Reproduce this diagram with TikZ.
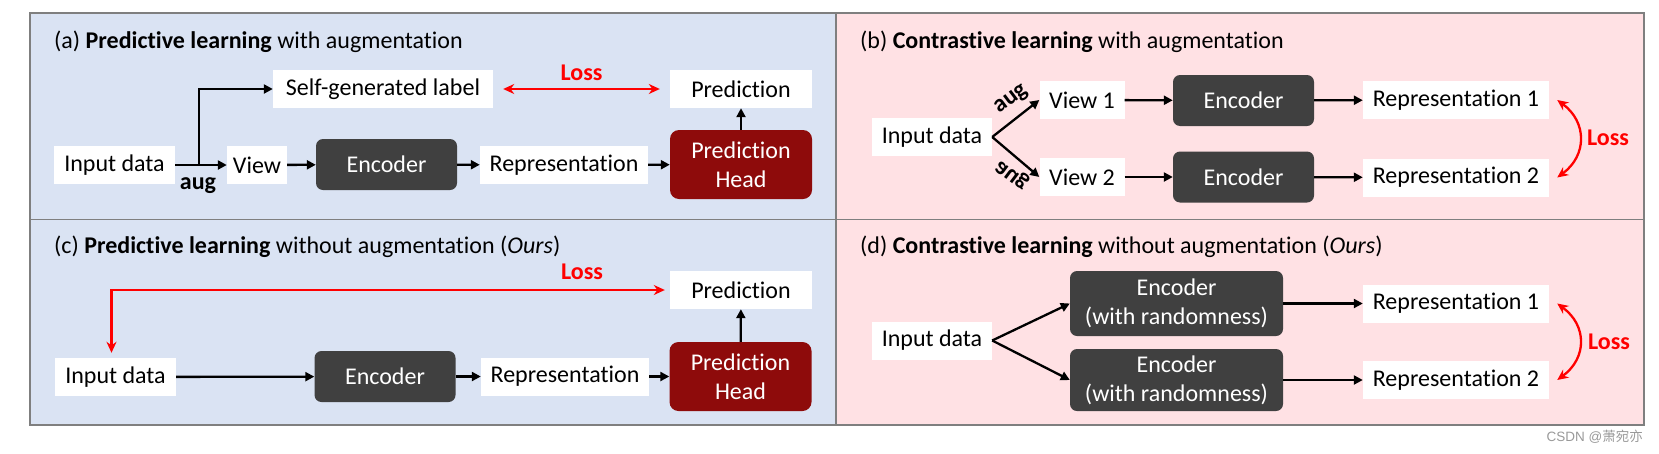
\documentclass[tikz,border=0pt]{standalone}
\usepackage{fontspec}
\setmainfont{Carlito}[Ligatures=NoCommon]
\newfontfamily\cjkfont{Noto Sans CJK SC}
\newfontfamily\markfont{Liberation Sans}
\usetikzlibrary{arrows.meta}

\definecolor{panelblue}{HTML}{DAE3F3}
\definecolor{panelpink}{HTML}{FFE1E4}
\definecolor{encgray}{HTML}{404040}
\definecolor{headred}{HTML}{8E0B0B}
\definecolor{lossred}{HTML}{FF0000}
\definecolor{framegray}{HTML}{7F7F7F}

\tikzset{
  box/.style={fill=white, inner sep=0pt, minimum height=38pt, minimum width=#1},
  box/.default=120pt,
  enc/.style={fill=encgray, text=white, rounded corners=7pt, inner sep=0pt,
    minimum width=141pt, minimum height=51pt, align=center},
  head/.style={fill=headred, text=white, rounded corners=9pt, inner sep=0pt,
    minimum width=142pt, minimum height=69pt, align=center},
  title/.style={anchor=west, inner sep=0pt},
  auglbl/.style={font=\fontsize{24}{29}\selectfont\bfseries, inner sep=0pt},
  losslbl/.style={text=lossred, font=\fontsize{24}{29}\selectfont\bfseries, inner sep=0pt},
  arr/.style={line width=2.3pt, -{Triangle[length=9pt,width=9pt]}},
  lossarr/.style={draw=lossred, line width=2.3pt,
    {Stealth[length=11pt,width=10pt]}-{Stealth[length=11pt,width=10pt]}}
}

\begin{document}
\begin{tikzpicture}[x=1pt, y=-1pt, font=\fontsize{24}{29}\selectfont]

  \useasboundingbox (0,0) rectangle (1659,453);

  % panels
  \fill[panelblue] (30,13) rectangle (836,425);
  \fill[panelpink] (836,13) rectangle (1644,425);
  \begin{scope}[draw=framegray, line width=1.6pt]
    \draw (30,13) rectangle (1644,425);
    \draw (836,13) -- (836,425);
    \draw (30,219.5) -- (1644,219.5);
  \end{scope}

  % (a)
  \node[title] (ta) at (54,42) {(a) \textbf{Predictive learning} with augmentation};
  \node[box=121pt] (a1) at (114.5,165) {Input data};
  \node[box=60pt]  (a2) at (257,165)   {View};
  \node[enc]       (a3) at (386.5,164.5) {Encoder};
  \node[box=168pt] (a4) at (564,165)   {Representation};
  \node[head]      (a5) at (741,164.5) {Prediction\\Head};
  \node[box=142pt] (a6) at (741,89)    {Prediction};
  \node[box=220pt] (a7) at (383,89)    {Self-generated label};
  \coordinate      (a8) at (199,165);
  \node[auglbl]    (a9) at (198,186) {aug};

  % (b)
  \node[title] (tb) at (860,42) {(b) \textbf{Contrastive learning} with augmentation};
  \node[box=120pt] (b1) at (932,137)    {Input data};
  \node[box=85pt]  (b2) at (1082,100)   {View 1};
  \node[box=85pt]  (b3) at (1082,177)   {View 2};
  \node[enc]       (b4) at (1243.5,100.5) {Encoder};
  \node[enc]       (b5) at (1243.5,177)   {Encoder};
  \node[box=186pt] (b6) at (1456,100)   {Representation 1};
  \node[box=186pt] (b7) at (1456,177.5) {Representation 2};
  \node[auglbl, rotate=37] (b8) at (1012,100) {aug};
  \node[auglbl, rotate=-37, yscale=-1] (b9) at (1013,174) {aug};
  \node[losslbl] (b10) at (1608,138) {Loss};

  % (c)
  \node[title] (tc) at (54,247) {(c) \textbf{Predictive learning} without augmentation (\textit{Ours})};
  \node[box=121pt] (c1) at (115.5,377)  {Input data};
  \node[enc]       (c2) at (385,376.5)  {Encoder};
  \node[box=168pt] (c3) at (565,376.5)  {Representation};
  \node[head]      (c4) at (740.5,376.5) {Prediction\\Head};
  \node[box=142pt] (c5) at (741,290)    {Prediction};
  \node[losslbl]   (c6) at (582,272)    {Loss};

  % (d)
  \node[title] (td) at (860,247) {(d) \textbf{Contrastive learning} without augmentation (\textit{Ours})};
  \node[box=120pt] (d1) at (932,340.5) {Input data};
  \node[enc, minimum width=213pt, minimum height=65pt] (d2) at (1176.5,303.5) {Encoder\\(with randomness)};
  \node[enc, minimum width=213pt, minimum height=62pt] (d3) at (1176.5,380) {Encoder\\(with randomness)};
  \node[box=186pt] (d4) at (1456,303.5) {Representation 1};
  \node[box=186pt] (d5) at (1456,380)   {Representation 2};
  \node[losslbl]   (d6) at (1609,342)   {Loss};

  % watermark
  \node[anchor=east, inner sep=0pt, text=black!40, font=\fontsize{13.5}{16}\selectfont] (wm) at (1643,437) {\markfont CSDN @\cjkfont 萧宛亦};

  \begin{scope}[every edge/.style={draw, arr}]
    \path (a1) edge (a2);
    \path (a8) edge[to path={|- (\tikztotarget)}] (a7);
    \path (a2) edge (a3);
    \path (a3) edge (a4);
    \path (a4) edge (a5);
    \path (a5) edge (a6);

    \path (b1.east) edge (b2.west);
    \path (b1.east) edge (b3.west);
    \path (b2) edge (b4);
    \path (b3) edge (b5);
    \path (b4) edge (b6);
    \path (b5) edge (b7);

    \path (c1) edge (c2);
    \path (c2) edge (c3);
    \path (c3) edge (c4);
    \path (c4) edge (c5);

    \path (d1.east) edge (d2.west);
    \path (d1.east) edge (d3.west);
    \path (d2) edge (d4);
    \path (d3) edge (d5);
  \end{scope}

  % losses
  \path (a7) edge[lossarr, shorten <=10pt, shorten >=10pt] node[losslbl, above=7pt] (a10) {Loss} (a6);
  \draw[lossarr, shorten <=5pt, shorten >=5pt] ([xshift=-4pt]c1.north) |- (c5.west);
  \draw[lossarr] ([xshift=8pt]b6.east) .. controls +(30,22) and +(30,-22) .. ([xshift=8pt]b7.east);
  \draw[lossarr] ([xshift=8pt]d4.east) .. controls +(30,22) and +(30,-22) .. ([xshift=8pt]d5.east);

\end{tikzpicture}
\end{document}
